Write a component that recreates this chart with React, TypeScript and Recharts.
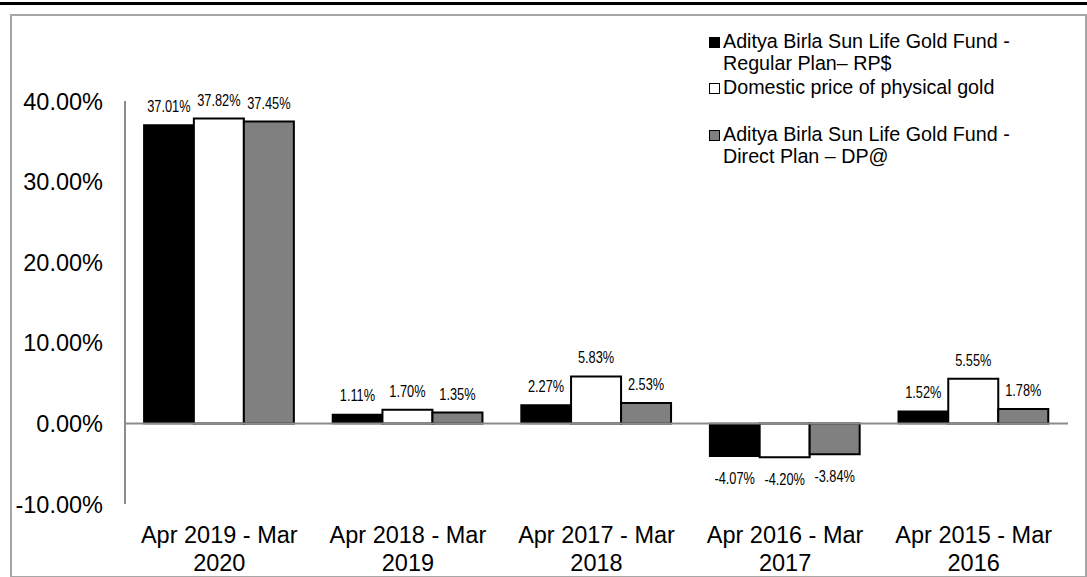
import { BarChart, Bar, XAxis, YAxis, ReferenceLine, LabelList } from "recharts";

const categories = [
  "Apr 2019 - Mar 2020",
  "Apr 2018 - Mar 2019",
  "Apr 2017 - Mar 2018",
  "Apr 2016 - Mar 2017",
  "Apr 2015 - Mar 2016",
];
const regularPlan = [37.01, 1.11, 2.27, -4.07, 1.52];
const physicalGold = [37.82, 1.7, 5.83, -4.2, 5.55];
const directPlan = [37.45, 1.35, 2.53, -3.84, 1.78];
const yTicks = [-10, 0, 10, 20, 30, 40];

const seriesNames = {
  regular: "Aditya Birla Sun Life Gold Fund - Regular Plan– RP$",
  physical: "Domestic price of physical gold",
  direct: "Aditya Birla Sun Life Gold Fund - Direct Plan – DP@",
};

const data = categories.map((c, i) => ({
  name: c,
  regular: regularPlan[i],
  physical: physicalGold[i],
  direct: directPlan[i],
}));

const FONT = "Arial, 'Liberation Sans', sans-serif";

function YTick({ y, payload }: any) {
  return (
    <text x={103} y={y} dy={8.5} textAnchor="end" fontSize={23.5} fontFamily={FONT} fill="#000">
      {payload.value.toFixed(2)}%
    </text>
  );
}

function XTick({ x, y, payload }: any) {
  const s = payload.value as string;
  const cut = s.lastIndexOf(" ");
  return (
    <text textAnchor="middle" fontSize={23.5} fontFamily={FONT} fill="#000">
      <tspan x={x} y={y + 37}>{s.slice(0, cut)}</tspan>
      <tspan x={x} y={y + 65}>{s.slice(cut + 1)}</tspan>
    </text>
  );
}

// narrow-looking value labels (squeezed horizontally)
function ValueLabel({ x, y, width, height, value }: any) {
  const top = Math.min(y, y + height);
  const bottom = Math.max(y, y + height);
  const ty = value >= 0 ? top - 13 : bottom + 28;
  return (
    <text
      transform={`translate(${x + width / 2},${ty}) scale(0.8,1)`}
      textAnchor="middle"
      fontSize={16}
      fontFamily={FONT}
      fill="#000"
    >
      {value.toFixed(2)}%
    </text>
  );
}

const legendItems = [
  { key: "regular", fill: "#000", top: 31 },
  { key: "physical", fill: "#fff", top: 77 },
  { key: "direct", fill: "#808080", top: 124 },
];

function LegendBox() {
  return (
    <>
      {legendItems.map((it) => (
        <div
          key={it.key}
          style={{
            position: "absolute",
            left: 709,
            top: it.top,
            display: "flex",
            alignItems: "flex-start",
            fontFamily: FONT,
            fontSize: 19.7,
            lineHeight: "21.5px",
            color: "#000",
          }}
        >
          <span
            style={{
              width: 9,
              height: 9,
              marginTop: 6,
              marginRight: 3,
              background: it.fill,
              border: "1px solid #000",
              flexShrink: 0,
            }}
          />
          <span style={{ maxWidth: 300 }}>{(seriesNames as any)[it.key]}</span>
        </div>
      ))}
    </>
  );
}

export default function App() {
  return (
    <div style={{ position: "absolute", left: 0, top: 0, width: 1087, height: 577, background: "#fff" }}>
      <div style={{ position: "absolute", left: 0, top: 2, width: 1087, height: 3, background: "#000" }} />
      <div
        style={{
          position: "absolute",
          left: 10,
          top: 14,
          width: 1073,
          height: 560,
          border: "2px solid #a6a6a6",
        }}
      />
      <div style={{ position: "absolute", left: 0, top: 0 }}>
        <BarChart
          width={1087}
          height={577}
          data={data}
          margin={{ top: 101, right: 19, left: 0, bottom: 0 }}
          barCategoryGap="10%"
          barGap={0}
        >
          <YAxis
            width={125}
            domain={[-10, 40]}
            ticks={yTicks}
            tick={<YTick />}
            tickLine={false}
            axisLine={{ stroke: "#8c8c8c", strokeWidth: 2 }}
            allowDataOverflow
          />
          <XAxis
            dataKey="name"
            height={73}
            tick={<XTick />}
            tickLine={false}
            axisLine={false}
            tickSize={0}
            interval={0}
          />
          <ReferenceLine y={0} stroke="#8c8c8c" strokeWidth={2} />
          <Bar dataKey="regular" name={seriesNames.regular} fill="#000" stroke="#000" strokeWidth={1.5} isAnimationActive={false}>
            <LabelList dataKey="regular" content={<ValueLabel />} />
          </Bar>
          <Bar dataKey="physical" name={seriesNames.physical} fill="#fff" stroke="#000" strokeWidth={2} isAnimationActive={false}>
            <LabelList dataKey="physical" content={<ValueLabel />} />
          </Bar>
          <Bar dataKey="direct" name={seriesNames.direct} fill="#808080" stroke="#000" strokeWidth={2} isAnimationActive={false}>
            <LabelList dataKey="direct" content={<ValueLabel />} />
          </Bar>
        </BarChart>
      </div>
      <LegendBox />
    </div>
  );
}
